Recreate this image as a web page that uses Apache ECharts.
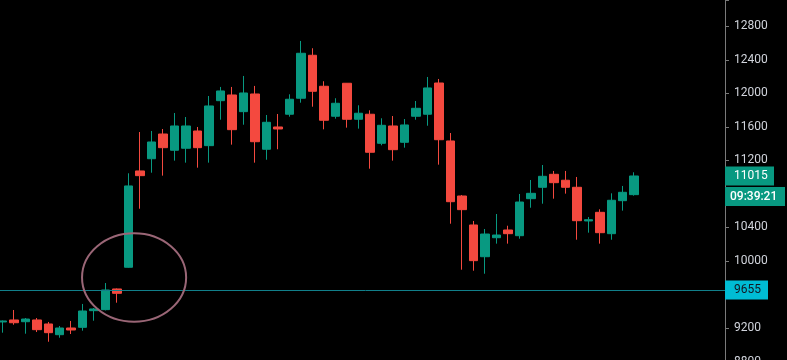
<!DOCTYPE html>
<html>
<head>
<meta charset="utf-8">
<script src="https://cdn.jsdelivr.net/npm/echarts@6/dist/echarts.min.js"></script>
<style>
html,body{margin:0;padding:0;background:#000;}
#chart{width:787px;height:360px;}
</style>
</head>
<body>
<div id="chart"></div>
<script>
// ---- data ----
const opens  = [9272,9296,9275,9296,9248,9120,9200,9208,9407,9419,9666,9925,11075,11221,11516,11322,11346,11552,11377,11914,11982,11783,11994,11334,11600,11752,11943,12456,12086,11728,12122,11692,11752,11405,11612,11417,11728,11752,12125,11433,10776,10430,10051,10278,10370,10302,10744,10880,11035,10964,10880,10478,10581,10326,10720,10792];
const closes = [9284,9263,9307,9180,9144,9200,9176,9403,9427,9654,9614,10896,11019,11421,11353,11612,11612,11353,11851,12030,11568,12006,11424,11656,11576,11931,12480,12026,11680,11883,11692,11764,11298,11620,11329,11624,11823,12066,11448,10708,10613,10004,10322,10310,10326,10704,10808,11011,10935,10880,10481,10493,10338,10725,10820,11015];
const lows   = [9144,9239,9132,9152,9036,9084,9128,9168,9287,9410,9502,9920,10624,11054,11019,11198,11174,11114,11174,11687,11389,11627,11174,11209,11334,11723,11890,11842,11572,11699,11592,11580,11102,11381,11198,11353,11687,11615,11150,10445,9896,9884,9848,10207,10207,10266,10636,10684,10744,10804,10254,10338,10207,10254,10601,10780];
const highs  = [9290,9415,9319,9319,9272,9224,9284,9487,9439,9737,9672,11047,11540,11552,11576,11767,11719,11600,11970,12078,12078,12209,12090,11743,11755,11990,12627,12540,12146,11943,12125,11859,11799,11704,11731,11695,11910,12197,12173,11528,10788,10478,10382,10561,10421,10800,10967,11146,11075,11075,11003,10525,10617,10808,10896,11059];
const slotCount = 64; // candles plus empty space up to the price axis
const categories = Array.from({length: slotCount}, (_, i) => 'P' + (i + 1));
const yTicks = [8800, 9200, 9600, 10000, 10400, 10800, 11200, 11600, 12000, 12400, 12800];
const lastPrice = 11015;
const lastTime = '09:39:21';
const markPrice = 9655;
const circleCenter = [11.47, 9803]; // category index, price
const circleRadius = [4.53, 528];   // in category slots, in price

const UP = '#089981', DOWN = '#f4493f';
const ohlc = opens.map((o, i) => [o, closes[i], lows[i], highs[i]]);

const chart = echarts.init(document.getElementById('chart'), null, {renderer: 'canvas'});
chart.setOption({
  backgroundColor: '#000000',
  animation: false,
  grid: {left: -3.45, right: 55.1, top: 0, bottom: -1.5, containLabel: false, outerBoundsMode: 'none'},
  xAxis: {type: 'category', data: categories, show: false, boundaryGap: true},
  yAxis: {
    type: 'value', position: 'right', offset: -6.9,
    min: yTicks[0], max: 13116, interval: 400, scale: true,
    splitLine: {show: false},
    axisLine: {show: true, lineStyle: {color: '#7a7a7a', width: 1}},
    axisTick: {show: true, inside: false, length: 4, lineStyle: {color: '#7a7a7a'}},
    axisLabel: {
      color: '#d1d4dc', fontSize: 12, fontFamily: 'Roboto, sans-serif', margin: 9,
      formatter: v => (yTicks.indexOf(v) >= 0 ? String(v) : '')
    }
  },
  series: [{
    type: 'candlestick',
    data: ohlc,
    barWidth: 9,
    itemStyle: {color: UP, color0: DOWN, borderColor: UP, borderColor0: DOWN, borderWidth: 1},
    markLine: {
      silent: true, symbol: ['none', 'none'],
      label: {show: false},
      lineStyle: {color: '#117f8a', width: 1, type: 'solid'},
      data: [{yAxis: markPrice}]
    }
  }]
});

function px(xv, yv) { return chart.convertToPixel({gridIndex: 0}, [xv, yv]); }
const axisX = chart.getWidth() - 55.1 - 6.9;
const yLast = chart.convertToPixel({yAxisIndex: 0}, lastPrice);
const yMark = chart.convertToPixel({yAxisIndex: 0}, markPrice);
const c0 = px(Math.floor(circleCenter[0]), circleCenter[1]);
const c1 = px(Math.floor(circleCenter[0]) + 1, circleCenter[1] + circleRadius[1]);
const band = c1[0] - c0[0];
const cx = c0[0] + (circleCenter[0] - Math.floor(circleCenter[0])) * band;
const cy = c0[1];
const rx = circleRadius[0] * band;
const ry = c0[1] - c1[1];

chart.setOption({
  graphic: [
    {type: 'ellipse', z: 100, shape: {cx: cx, cy: cy, rx: rx, ry: ry},
     style: {fill: 'none', stroke: '#9a6676', lineWidth: 2}},
    {type: 'rect', z: 100, shape: {x: axisX, y: Math.round(yLast) - 9.5, width: 49, height: 19},
     style: {fill: UP}},
    {type: 'text', z: 101, x: axisX + 9, y: yLast,
     style: {text: String(lastPrice), fill: '#ffffff', font: '12px Roboto, sans-serif', verticalAlign: 'middle', align: 'left'}},
    {type: 'rect', z: 100, shape: {x: axisX, y: Math.round(yLast) + 11, width: 60, height: 19},
     style: {fill: UP}},
    {type: 'text', z: 101, x: axisX + 5, y: Math.round(yLast) + 20.5,
     style: {text: lastTime, fill: '#ffffff', font: '500 12px Roboto, sans-serif', verticalAlign: 'middle', align: 'left'}},
    {type: 'rect', z: 100, shape: {x: axisX, y: Math.round(yMark) - 9.5, width: 43, height: 19},
     style: {fill: '#00bcd4'}},
    {type: 'text', z: 101, x: axisX + 9, y: yMark,
     style: {text: String(markPrice), fill: '#131722', font: '12px Roboto, sans-serif', verticalAlign: 'middle', align: 'left'}}
  ]
});
</script>
</body>
</html>
